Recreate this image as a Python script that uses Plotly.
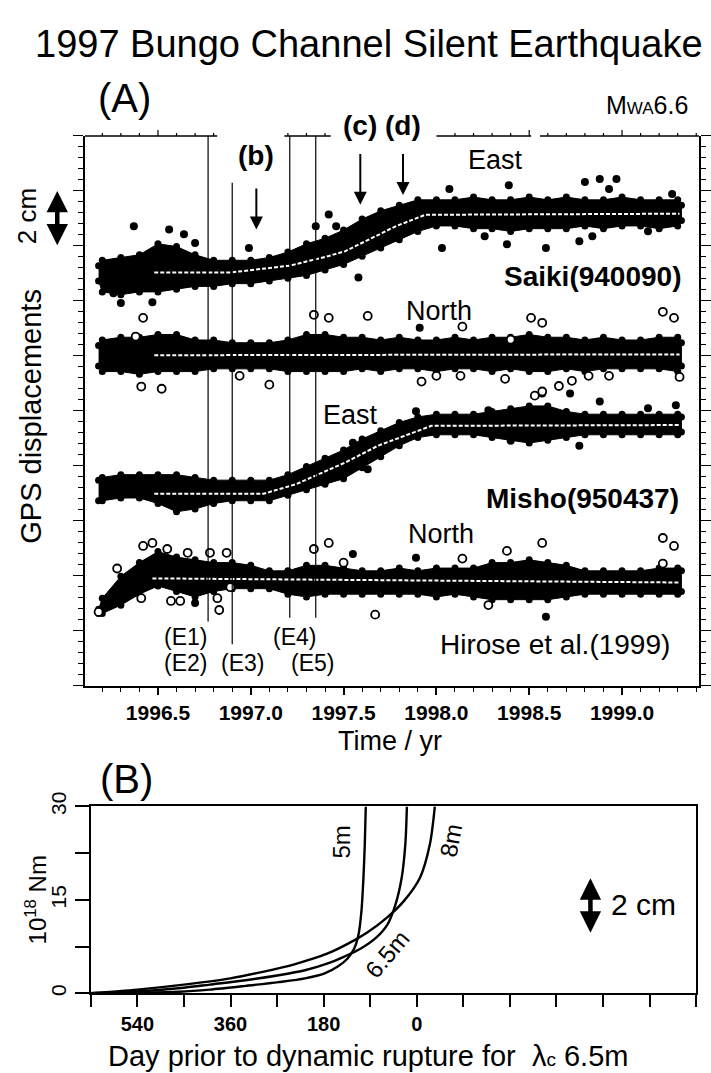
import plotly.graph_objects as go

W, H = 711, 1073
FONT = "Liberation Sans, Arial, Helvetica, sans-serif"

# ---------------- Panel A data (GPS displacements, cm) ----------------
T = [1996.18, 1996.2, 1996.3, 1996.4, 1996.5, 1996.6, 1996.7, 1996.8, 1996.9,
     1997.0, 1997.1, 1997.2, 1997.3, 1997.4, 1997.5, 1997.6, 1997.7, 1997.8, 1997.9,
     1998.0, 1998.1, 1998.2, 1998.3, 1998.4, 1998.5, 1998.6, 1998.7, 1998.8, 1998.9,
     1999.0, 1999.1, 1999.2, 1999.3, 1999.32]

# outer edges of the dense clouds of daily points
saiki_east_upper = [15.4, 15.6, 15.7, 15.8, 16.2, 16.1, 15.8, 15.6, 15.6, 15.6, 15.7, 15.9, 16.2,
                    16.4, 16.7, 17.1, 17.4, 17.6, 17.8, 17.8, 17.8, 17.9, 17.8, 17.8, 17.9, 17.8,
                    17.9, 17.8, 17.8, 17.9, 17.8, 17.8, 17.8, 17.6]
saiki_east_lower = [14.6, 14.2, 14.1, 14.2, 14.2, 14.3, 14.4, 14.4, 14.5, 14.5, 14.6, 14.7, 14.8,
                    15.0, 15.2, 15.5, 15.8, 16.1, 16.4, 16.6, 16.6, 16.5, 16.5, 16.4, 16.5, 16.5,
                    16.5, 16.6, 16.5, 16.6, 16.6, 16.5, 16.6, 16.8]
saiki_north_upper = [12.5, 12.7, 12.8, 12.8, 12.9, 12.9, 12.7, 12.7, 12.6, 12.6, 12.6, 12.7, 12.9,
                     12.9, 12.8, 12.8, 12.7, 12.8, 12.7, 12.7, 12.8, 12.7, 12.8, 12.8, 12.9, 12.8,
                     12.8, 12.7, 12.8, 12.7, 12.7, 12.8, 12.8, 12.6]
saiki_north_lower = [11.5, 11.3, 11.3, 11.2, 11.3, 11.3, 11.3, 11.4, 11.4, 11.4, 11.4, 11.3, 11.3,
                     11.3, 11.3, 11.4, 11.3, 11.4, 11.4, 11.3, 11.4, 11.4, 11.3, 11.4, 11.3, 11.3,
                     11.4, 11.3, 11.4, 11.4, 11.4, 11.4, 11.3, 11.5]
misho_east_upper = [7.6, 7.7, 7.8, 7.8, 7.8, 7.8, 7.7, 7.6, 7.6, 7.6, 7.6, 7.8, 8.1, 8.4, 8.7,
                    9.1, 9.4, 9.7, 9.9, 10.0, 10.0, 10.0, 10.1, 10.2, 10.3, 10.3, 10.1, 10.0,
                    10.0, 10.0, 10.0, 10.0, 10.0, 9.9]
misho_east_lower = [6.6, 6.6, 6.7, 6.7, 6.5, 6.2, 6.3, 6.5, 6.6, 6.6, 6.6, 6.8, 7.0, 7.2, 7.4,
                    7.8, 8.2, 8.6, 8.9, 9.0, 9.0, 9.0, 8.9, 8.8, 8.7, 8.8, 8.9, 9.0, 9.0, 9.0,
                    9.0, 9.0, 9.0, 9.1]
misho_north_upper = [2.9, 3.3, 4.1, 4.6, 5.0, 4.8, 4.7, 4.6, 4.6, 4.5, 4.3, 4.3, 4.5, 4.5, 4.4,
                     4.3, 4.3, 4.4, 4.3, 4.4, 4.4, 4.4, 4.6, 4.6, 4.7, 4.6, 4.5, 4.3, 4.3, 4.3,
                     4.3, 4.4, 4.4, 4.3]
misho_north_lower = [2.5, 2.5, 2.8, 3.2, 3.5, 3.3, 3.1, 3.3, 3.4, 3.4, 3.4, 3.2, 3.1, 3.2, 3.2,
                     3.2, 3.2, 3.2, 3.2, 3.1, 3.2, 3.1, 3.0, 3.0, 3.0, 3.0, 3.1, 3.2, 3.2, 3.2,
                     3.2, 3.2, 3.2, 3.3]

# fitted model lines
saiki_east_fit_t = [1996.48, 1996.89, 1997.21, 1997.42, 1997.51, 1997.78, 1997.94, 1999.31]
saiki_east_fit_v = [15.03, 15.03, 15.28, 15.63, 15.81, 16.71, 17.13, 17.17]
saiki_north_fit_t = [1996.48, 1999.31]
saiki_north_fit_v = [12.02, 12.05]
misho_east_fit_t = [1996.48, 1997.07, 1997.245, 1997.51, 1997.686, 1997.867, 1997.973, 1999.31]
misho_east_fit_v = [6.98, 6.98, 7.33, 8.12, 8.73, 9.19, 9.45, 9.48]
misho_north_fit_t = [1996.47, 1999.31]
misho_north_fit_v = [3.90, 3.75]

# isolated points outside the dense bands
saiki_east_out_t = [1996.37, 1996.56, 1996.64, 1996.70, 1996.30, 1996.47, 1996.26, 1996.99, 1997.35,
                    1997.42, 1997.46, 1997.58, 1998.03, 1998.26, 1998.38, 1998.59, 1998.77, 1998.80,
                    1998.88, 1998.97, 1998.93, 1998.39, 1998.07, 1999.27, 1998.84, 1999.14]
saiki_east_out_v = [16.71, 16.60, 16.42, 16.10, 13.92, 13.95, 14.28, 15.92, 16.71, 17.14, 16.71,
                    14.85, 15.92, 16.35, 16.06, 15.92, 16.17, 18.32, 18.43, 18.43, 18.07, 18.21,
                    18.07, 17.89, 16.35, 16.53]
saiki_north_open_t = [1996.42, 1996.38, 1996.41, 1996.52, 1996.94, 1997.10, 1997.34, 1997.42, 1997.63,
                      1998.14, 1998.51, 1998.57, 1997.92, 1998.00, 1998.13, 1998.37, 1998.82, 1998.93,
                      1999.22, 1999.28, 1999.31, 1998.40]
saiki_north_open_v = [13.38, 12.70, 10.88, 10.80, 11.27, 10.95, 13.49, 13.38, 13.45, 13.06, 13.38,
                      13.20, 11.06, 11.27, 11.27, 11.16, 11.27, 11.27, 13.60, 13.38, 11.23, 12.59]
saiki_north_fill_t = [1997.91]
saiki_north_fill_v = [13.02]
misho_east_out_t = [1997.55, 1997.63, 1998.57, 1998.72, 1998.88, 1999.29, 1999.14, 1998.28, 1997.89,
                    1998.40, 1998.77]
misho_east_out_v = [8.84, 7.87, 10.63, 10.63, 10.34, 10.20, 10.09, 10.02, 9.98, 8.91, 8.73]
misho_east_open_t = [1998.53, 1998.57, 1998.66, 1998.73]
misho_east_open_v = [10.55, 10.70, 10.90, 11.09]
misho_north_open_t = [1996.18, 1996.28, 1996.42, 1996.47, 1996.55, 1996.66, 1996.57, 1996.62, 1996.41,
                      1996.82, 1996.83, 1996.89, 1996.87, 1996.78, 1997.34, 1997.42, 1997.50, 1997.67,
                      1998.14, 1998.38, 1998.57, 1998.28, 1999.22, 1999.28, 1999.22]
misho_north_open_v = [2.68, 4.26, 5.08, 5.19, 4.97, 4.83, 3.08, 3.08, 3.18, 3.18, 2.75, 3.58, 4.83,
                      4.83, 4.97, 5.19, 4.47, 2.58, 4.62, 4.90, 5.19, 2.93, 5.37, 5.08, 4.44]
misho_north_fill_t = [1997.55, 1997.89, 1998.59, 1996.70]
misho_north_fill_v = [4.79, 4.65, 2.50, 3.00]

year_tick_vals = [1996.5, 1997.0, 1997.5, 1998.0, 1998.5, 1999.0]
year_tick_text = ["1996.5", "1997.0", "1997.5", "1998.0", "1998.5", "1999.0"]

event_labels = ["(E1)", "(E2)", "(E3)", "(E4)", "(E5)"]
event_line_times = [1996.77, 1996.90, 1997.21, 1997.35]
arrow_labels = ["(b)", "(c)", "(d)"]
arrow_times = [1997.03, 1997.59, 1997.82]

# ---------------- Panel B data (moment 10^18 Nm vs days) ----------------
day_tick_vals = [630, 540, 450, 360, 270, 180, 90, 0, -90, -180, -270, -360, -450, -540]
day_tick_text = ["", "540", "", "360", "", "180", "", "0", "", "", "", "", "", ""]
moment_tick_vals = [0, 7.5, 15, 22.5, 30]
moment_tick_text = ["0", "", "15", "", "30"]

curve_5m_days = [632, 540, 459, 400, 331, 267, 216, 178, 152.7, 133.6, 120.8, 112.6, 106.9, 103, 100.4, 98.5]
curve_5m_val = [0, 0.1, 0.25, 0.6, 1.2, 1.8, 2.4, 3.2, 4.3, 5.6, 7.2, 9.4, 13.2, 18.6, 24.0, 30]
curve_65m_days = [632, 540, 450, 400, 331, 267, 216, 172, 140, 108, 79, 57, 41, 29, 22, 19]
curve_65m_val = [0, 0.3, 0.9, 1.4, 2.1, 2.9, 3.7, 4.8, 5.9, 7.2, 8.9, 11.0, 14.3, 18.6, 24.0, 30]
curve_8m_days = [632, 540, 450, 360, 300, 235, 172, 121, 95, 57, 25, -6.5, -25.6, -35]
curve_8m_val = [0, 0.6, 1.4, 2.4, 3.4, 4.7, 6.4, 8.5, 9.8, 12.2, 14.8, 18.6, 24.0, 30]


# ---------------- geometry helpers (pixel -> paper) ----------------
def px(x):
    return x / W


def py(y):
    return 1 - y / H


A_LEFT, A_RIGHT = 86, 708
A_TOP, A_BOT = 123, 682
B_TOP, B_BOT = 805, 995
X0, X1 = 1996.1064, 1999.4149
CM_PX = (A_BOT - A_TOP) / 20.0
DOT = 7
R = (DOT / 2) / CM_PX   # dot radius in cm

fig = go.Figure()


def add_band(up, lo):
    inner_up = [u - R for u in up]
    inner_lo = [l + R for l in lo]
    fig.add_trace(go.Scatter(x=T + T[::-1], y=inner_up + inner_lo[::-1], fill="toself", fillcolor="black",
                             mode="lines", line=dict(color="black", width=1),
                             hoverinfo="skip", showlegend=False, xaxis="x", yaxis="y"))
    fig.add_trace(go.Scatter(x=T + T, y=inner_up + inner_lo, mode="markers",
                             marker=dict(size=DOT, color="black"),
                             hoverinfo="skip", showlegend=False, xaxis="x", yaxis="y"))


def add_points(t, v, open_marker):
    if open_marker:
        m = dict(size=8, color="white", line=dict(color="black", width=1.8))
    else:
        m = dict(size=DOT + 1, color="black")
    fig.add_trace(go.Scatter(x=t, y=v, mode="markers", marker=m, hoverinfo="skip",
                             showlegend=False, xaxis="x", yaxis="y"))


def add_fit(t, v):
    fig.add_trace(go.Scatter(x=t, y=v, mode="lines", line=dict(color="white", width=2, dash="4px,2px"),
                             hoverinfo="skip", showlegend=False, xaxis="x", yaxis="y"))


add_band(saiki_east_upper, saiki_east_lower)
add_band(saiki_north_upper, saiki_north_lower)
add_band(misho_east_upper, misho_east_lower)
add_band(misho_north_upper, misho_north_lower)

add_points(saiki_east_out_t, saiki_east_out_v, False)
add_points(saiki_north_open_t, saiki_north_open_v, True)
add_points(saiki_north_fill_t, saiki_north_fill_v, False)
add_points(misho_east_out_t, misho_east_out_v, False)
add_points(misho_east_open_t, misho_east_open_v, True)
add_points(misho_north_open_t, misho_north_open_v, True)
add_points(misho_north_fill_t, misho_north_fill_v, False)

add_fit(saiki_east_fit_t, saiki_east_fit_v)
add_fit(saiki_north_fit_t, saiki_north_fit_v)
add_fit(misho_east_fit_t, misho_east_fit_v)
add_fit(misho_north_fit_t, misho_north_fit_v)

# Panel B curves
for d, v in [(curve_5m_days, curve_5m_val), (curve_65m_days, curve_65m_val), (curve_8m_days, curve_8m_val)]:
    fig.add_trace(go.Scatter(x=d, y=v, mode="lines", line=dict(color="black", width=2.4, shape="spline",
                                                              smoothing=0.8),
                             hoverinfo="skip", showlegend=False, xaxis="x2", yaxis="y2"))

# ---------------- shapes ----------------
shapes = []
ev_top = [20, 18.3, 20, 20]
ev_bot = [2.33, 1.5, 2.47, 2.47]
for t, a, b in zip(event_line_times, ev_top, ev_bot):
    shapes.append(dict(type="line", xref="x", yref="y", x0=t, x1=t, y0=b, y1=a,
                       line=dict(color="black", width=1.2)))
# broken top border of panel A with its small ticks
top_segments = [(86, 220), (288, 335), (442, 538), (547, 708)]
for a, b in top_segments:
    shapes.append(dict(type="line", xref="paper", yref="paper", x0=px(a), x1=px(b), y0=py(A_TOP), y1=py(A_TOP),
                       line=dict(color="black", width=1.5)))
for k in range(2, 35):
    yr = 1996.0 + k / 10.0
    xp = A_LEFT + (yr - X0) / (X1 - X0) * (A_RIGHT - A_LEFT)
    if any(a <= xp <= b for a, b in top_segments):
        ln = 6 if k % 5 == 0 else 3
        shapes.append(dict(type="line", xref="x", yref="paper", x0=yr, x1=yr,
                           y0=py(A_TOP), y1=py(A_TOP - ln), line=dict(color="black", width=1.2)))

annotations = []


def txt(x, y, s, size, bold=False, angle=0, xanchor="center"):
    f = dict(family=FONT, size=size, color="black")
    if bold:
        f["weight"] = "bold"
    annotations.append(dict(x=px(x), y=py(y), xref="paper", yref="paper", text=s, showarrow=False,
                            font=f, textangle=angle, xanchor=xanchor, yanchor="middle"))


txt(374, 30, "1997 Bungo Channel Silent Earthquake", 38)
txt(126, 84, "(A)", 40)
txt(655, 92, "M<span style='font-size:17px'>WA</span>6.6", 25)
txt(502, 147, "East", 27)
txt(692, 266, "Saiki(940090)", 28, bold=True, xanchor="right")
txt(445, 301, "North", 27)
txt(355, 407, "East", 27)
txt(690, 492, "Misho(950437)", 28, bold=True, xanchor="right")
txt(447, 528, "North", 27)
txt(562, 640, "Hirose et al.(1999)", 28)
for lab, (x, y) in zip(event_labels, [(188, 633), (188, 659), (246, 659), (298, 633), (316, 659)]):
    txt(x, y, lab, 23)
txt(32, 408, "GPS displacements", 29, angle=-90)
txt(27, 205, "2 cm", 26, angle=-90)
txt(395, 738, "Time / yr", 27)
txt(128, 777, "(B)", 40)
txt(36, 900, "10<sup>18</sup> Nm", 24, angle=-90)
txt(346, 841, "5m", 24, angle=-90)
txt(457, 840, "8m", 24, angle=-80)
txt(392, 956, "6.5m", 24, angle=-50)
txt(652, 905, "2 cm", 30)
txt(373, 1059, "Day prior to dynamic rupture for  λ<span style='font-size:19px'>c</span> 6.5m", 29)

# (b)(c)(d) labels and arrows
arrow_label_y = [143, 112, 112]
arrow_tip = [16.6, 17.5, 17.85]
arrow_tail = [18.14, 19.4, 19.4]
for lab, t, ly, tip, tail in zip(arrow_labels, arrow_times, arrow_label_y, arrow_tip, arrow_tail):
    annotations.append(dict(x=t, y=py(ly), xref="x", yref="paper", text=lab, showarrow=False,
                            yanchor="middle",
                            font=dict(family=FONT, size=28, color="black", weight="bold")))
    annotations.append(dict(x=t, y=tip, ax=t, ay=tail, xref="x", yref="y", axref="x", ayref="y",
                            text="", showarrow=True, arrowhead=2, arrowsize=1.3, arrowwidth=2,
                            arrowcolor="black"))

# double arrows (2 cm scale)
annotations.append(dict(x=px(58), y=18.0, xref="paper", yref="y", ax=0, ay=2 * CM_PX,
                        text="", showarrow=True, arrowside="end+start", arrowhead=2, arrowsize=0.95,
                        arrowwidth=4.5, arrowcolor="black"))
annotations.append(dict(x=px(598), y=py(878), xref="paper", yref="paper", ax=0, ay=2 * CM_PX,
                        text="", showarrow=True, arrowside="end+start", arrowhead=2, arrowsize=0.95,
                        arrowwidth=4.5, arrowcolor="black"))

tickfont_bold = dict(family=FONT, size=21, color="black", weight="bold")

fig.update_layout(
    width=W, height=H, margin=dict(l=0, r=0, t=0, b=0),
    paper_bgcolor="white", plot_bgcolor="white", showlegend=False,
    font=dict(family=FONT, color="black"),
    xaxis=dict(domain=[px(A_LEFT), px(A_RIGHT)], range=[X0, X1], anchor="y",
               showline=True, linecolor="black", linewidth=2, mirror=False,
               ticks="outside", tickvals=year_tick_vals, ticktext=year_tick_text,
               ticklen=7, tickwidth=1.5, tickcolor="black", tickfont=tickfont_bold,
               minor=dict(tickmode="linear", tick0=1996.0, dtick=0.1, ticks="outside",
                          ticklen=4, tickwidth=1, tickcolor="black", showgrid=False),
               showgrid=False, zeroline=False),
    yaxis=dict(domain=[py(A_BOT), py(A_TOP)], range=[0, 20], anchor="x",
               showline=True, linecolor="black", linewidth=1.5, mirror="ticks",
               ticks="outside", tickmode="linear", tick0=0, dtick=2, ticklen=10, tickwidth=1.3,
               tickcolor="black", showticklabels=False,
               minor=dict(tickmode="linear", tick0=0, dtick=0.4, ticks="outside", ticklen=5,
                          tickwidth=1, tickcolor="black", showgrid=False),
               showgrid=False, zeroline=False),
    xaxis2=dict(domain=[px(92), px(705)], range=[630, -540], anchor="y2",
                showline=True, linecolor="black", linewidth=2.2, mirror=True,
                ticks="outside", tickvals=day_tick_vals, ticktext=day_tick_text,
                ticklen=12, tickwidth=2, tickcolor="black",
                tickfont=dict(family=FONT, size=20, color="black", weight="bold"),
                showgrid=False, zeroline=False),
    yaxis2=dict(domain=[py(B_BOT), py(B_TOP)], range=[0, 30], anchor="x2",
                showline=True, linecolor="black", linewidth=2.2, mirror=True,
                ticks="outside", tickvals=moment_tick_vals, ticktext=moment_tick_text,
                ticklen=14, tickwidth=2, tickcolor="black", tickangle=-90,
                tickfont=dict(family=FONT, size=21, color="black"),
                showgrid=False, zeroline=False),
    shapes=shapes, annotations=annotations,
)

fig.write_html("out.html")
